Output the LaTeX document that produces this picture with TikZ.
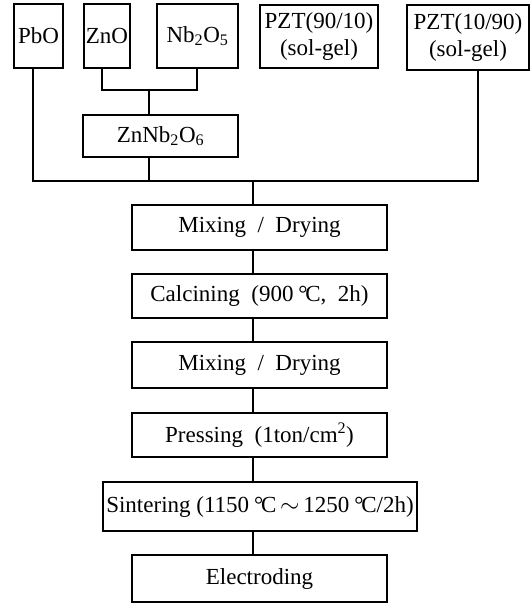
\documentclass[tikz,border=0pt]{standalone}
\usepackage{fontspec}
\setmainfont{Liberation Serif}
\usetikzlibrary{calc}
\newcommand\degC{\kern0.05em°\kern-0.1em C}
\begin{document}
\begin{tikzpicture}[x=1pt,y=-1pt,
  box/.style={draw, line width=2.2pt, inner sep=0pt, align=center,
    font=\fontsize{23}{27}\selectfont},
  link/.style={line width=2.2pt}]
\useasboundingbox (0,0) rectangle (531,604);
% top sources
\node[box, minimum width=49pt, minimum height=64pt] (pbo) at (38.5,36) {PbO};
\node[box, minimum width=46pt, minimum height=64pt] (zno) at (107,36) {ZnO};
\node[box, minimum width=81pt, minimum height=64pt] (nbo) at (197.5,36) {Nb\textsubscript{2}O\textsubscript{5}};
\node[box, minimum width=118pt, minimum height=63pt] (pzta) at (319,36.5) {PZT(90/10)\\(sol-gel)};
\node[box, minimum width=122pt, minimum height=65pt] (pztb) at (468,37.5) {PZT(10/90)\\(sol-gel)};
\node[box, minimum width=155pt, minimum height=42pt] (znnb) at (160.5,136) {ZnNb\textsubscript{2}O\textsubscript{6}};
% process chain
\node[box, minimum width=255pt, minimum height=45pt] (mix1) at (259.5,227.5) {Mixing\ \ /\ \ Drying};
\node[box, minimum width=255pt, minimum height=44pt] (calc) at (259.5,296) {Calcining\ \ (900\,\degC,\ \ 2h)};
\node[box, minimum width=255pt, minimum height=46pt] (mix2) at (259.5,365) {Mixing\ \ /\ \ Drying};
\node[box, minimum width=255pt, minimum height=44pt] (press) at (259.5,435) {Pressing\ \ (1ton/cm\textsuperscript{2})};
\node[box, minimum width=314pt, minimum height=49pt] (sint) at (260,506.5) {Sintering\ (1150\,\degC\,$\sim$\,1250\,\degC/2h)};
\node[box, minimum width=255pt, minimum height=47pt] (elec) at (259.5,578.5) {Electroding};
% junction points
\coordinate (znbar) at (149,90);
\coordinate (bus) at (253,181);
% ZnO + Nb2O5 -> ZnNb2O6
\draw[link] ($(zno.south)+(-5,0)$) |- (znbar) -| ($(nbo.south)+(-0.5,0)$);
\draw[link] (znbar) -- (znbar |- znnb.north);
% bus
\draw[link] ($(pbo.south)+(-5.5,0)$) |- (bus) -| ($(pztb.south)+(10,0)$);
\draw[link] (znnb.south -| znbar) -- (znbar |- bus);
\draw[link] ($(pzta.south)+(20,0)$) -- ($(pzta.south)+(20,0)$ |- bus);
\draw[link] (bus) -- (bus |- mix1.north);
% chain
\draw[link] (mix1.south -| bus) -- (calc.north -| bus);
\draw[link] (calc.south -| bus) -- (mix2.north -| bus);
\draw[link] (mix2.south -| bus) -- (press.north -| bus);
\draw[link] (press.south -| bus) -- (sint.north -| bus);
\draw[link] (sint.south -| bus) -- (elec.north -| bus);
\end{tikzpicture}
\end{document}
